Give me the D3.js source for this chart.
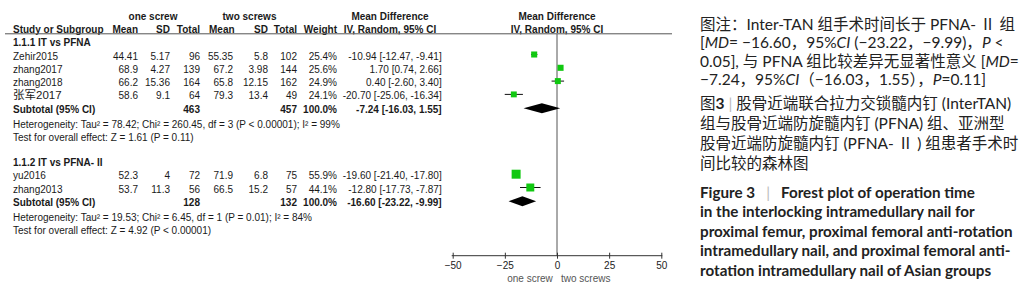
<!DOCTYPE html>
<html>
<head>
<meta charset="utf-8">
<script src="https://cdn.jsdelivr.net/npm/d3@7"></script>
<style>
  body { margin: 0; background: #fff; }
  svg { display: block; }
  .tbl { font-family: "Liberation Sans", Arial, "Noto Sans CJK SC", sans-serif; font-size: 10px; fill: #1a1a1a; }
  .cap { font-family: Lato, "Noto Sans CJK SC", sans-serif; fill: #222; }
</style>
</head>
<body>
<div id="chart"></div>
<script>
// ---- data ----
const studies = ["Zehir2015", "zhang2017", "zhang2018", "张军2017", "yu2016", "zhang2013"];
const studyGroup = [0, 0, 0, 0, 1, 1];
const mean1 = [44.41, 68.9, 66.2, 58.6, 52.3, 53.7];
const sd1 = [5.17, 4.27, 15.36, 9.1, 4, 11.3];
const n1 = [96, 139, 164, 64, 72, 56];
const mean2 = [55.35, 67.2, 65.8, 79.3, 71.9, 66.5];
const sd2 = [5.8, 3.98, 12.15, 13.4, 6.8, 15.2];
const n2 = [102, 144, 162, 49, 75, 57];
const weights = [25.4, 25.6, 24.9, 24.1, 55.9, 44.1];
const md = [-10.94, 1.70, 0.40, -20.70, -19.60, -12.80];
const mdLo = [-12.47, 0.74, -2.60, -25.06, -21.40, -17.73];
const mdHi = [-9.41, 2.66, 3.40, -16.34, -17.80, -7.87];

const groupNames = ["1.1.1 IT vs PFNA", "1.1.2 IT vs PFNA- II"];
const subN1 = [463, 128];
const subN2 = [457, 132];
const subMd = [-7.24, -16.60];
const subLo = [-16.03, -23.22];
const subHi = [1.55, -9.99];
const hetText = [
  "Heterogeneity: Tau² = 78.42; Chi² = 260.45, df = 3 (P < 0.00001); I² = 99%",
  "Heterogeneity: Tau² = 19.53; Chi² = 6.45, df = 1 (P = 0.01); I² = 84%"
];
const testText = [
  "Test for overall effect: Z = 1.61 (P = 0.11)",
  "Test for overall effect: Z = 4.92 (P < 0.00001)"
];
const axisTicks = [-50, -25, 0, 25, 50];

const W = 1032, H = 291;
const svg = d3.select("#chart").append("svg")
  .attr("width", W).attr("height", H);
svg.append("rect").attr("width", W).attr("height", H).attr("fill", "#fff");

// scales
const x = d3.scaleLinear().domain([-50, 50]).range([452.7, 661.3]);
const row = d3.scaleLinear().domain([0, 1]).range([42.7, 56]);
const box = d3.scaleSqrt().domain([0, 100]).range([0, 12]);

// column right edges
const col = { study: 13, m1: 138, s1: 170, t1: 200, m2: 233, s2: 268, t2: 297, w: 337, md: 441.7 };

const t = svg.append("g").attr("class", "tbl");
const fmtMd = (m, l, h) => `${m.toFixed(2)} [${l.toFixed(2)}, ${h.toFixed(2)}]`;

// header
t.append("text").attr("x", 153).attr("y", 19.5).attr("text-anchor", "middle")
  .attr("font-weight", "bold").text("one screw");
t.append("text").attr("x", 249.5).attr("y", 19.5).attr("text-anchor", "middle")
  .attr("font-weight", "bold").text("two screws");
t.append("text").attr("x", 390).attr("y", 19.5).attr("text-anchor", "middle")
  .attr("font-weight", "bold").text("Mean Difference");
t.append("text").attr("x", 557).attr("y", 19.5).attr("text-anchor", "middle")
  .attr("font-weight", "bold").text("Mean Difference");

const head2 = [
  ["Study or Subgroup", col.study, "start"], ["Mean", col.m1, "end"], ["SD", col.s1, "end"],
  ["Total", col.t1, "end"], ["Mean", col.m2 - 24, "start"], ["SD", col.s2, "end"],
  ["Total", col.t2, "end"], ["Weight", col.w, "end"]
];
head2.forEach(([s, xx, a]) => {
  t.append("text").attr("x", xx).attr("y", 32.5).attr("text-anchor", a)
    .attr("font-weight", "bold").text(s);
});
t.append("text").attr("x", 390).attr("y", 32.5).attr("text-anchor", "middle")
  .attr("font-weight", "bold").text("IV, Random, 95% CI");
t.append("text").attr("x", 557).attr("y", 32.5).attr("text-anchor", "middle")
  .attr("font-weight", "bold").text("IV, Random, 95% CI");

svg.append("line").attr("x1", 5).attr("x2", 672).attr("y1", 33.8).attr("y2", 33.8)
  .attr("stroke", "#555").attr("stroke-width", 1);

// zero line
svg.append("line").attr("x1", x(0)).attr("x2", x(0)).attr("y1", 34).attr("y2", 255.7)
  .attr("stroke", "#555").attr("stroke-width", 1);

// rows
const groupStart = [0, 9];
const plot = svg.append("g");
const textY = s => row(s) + 3.5;
const markY = s => row(s) - 1.5;

groupNames.forEach((g, gi) => {
  const base = groupStart[gi];
  t.append("text").attr("x", col.study).attr("y", textY(base))
    .attr("font-weight", "bold").text(g);

  const idx = studies.map((d, i) => i).filter(i => studyGroup[i] === gi);
  idx.forEach((i, k) => {
    const s = base + 1 + k;
    const cells = [
      [studies[i], col.study, "start"], [String(mean1[i]), col.m1, "end"], [String(sd1[i]), col.s1, "end"],
      [String(n1[i]), col.t1, "end"], [String(mean2[i]), col.m2, "end"], [String(sd2[i]), col.s2, "end"],
      [String(n2[i]), col.t2, "end"], [weights[i].toFixed(1) + "%", col.w, "end"],
      [fmtMd(md[i], mdLo[i], mdHi[i]), col.md, "end"]
    ];
    cells.forEach(([v, xx, a], c) => {
      const el = t.append("text").attr("x", xx).attr("y", textY(s)).attr("text-anchor", a).text(v);
      if (c === 0 && /[\u4e00-\u9fff]/.test(v)) el.attr("font-size", 11.5);
    });
    // CI line and box
    plot.append("line").attr("x1", x(mdLo[i])).attr("x2", x(mdHi[i]))
      .attr("y1", markY(s)).attr("y2", markY(s)).attr("stroke", "#111").attr("stroke-width", 1);
    const b = box(weights[i]);
    plot.append("rect").attr("x", x(md[i]) - b / 2).attr("y", markY(s) - b / 2)
      .attr("width", b).attr("height", b).attr("fill", "#10c810");
  });

  const sub = base + 1 + idx.length;
  const subCells = [
    ["Subtotal (95% CI)", col.study, "start"], [String(subN1[gi]), col.t1, "end"],
    [String(subN2[gi]), col.t2, "end"], ["100.0%", col.w, "end"],
    [fmtMd(subMd[gi], subLo[gi], subHi[gi]), col.md, "end"]
  ];
  subCells.forEach(([v, xx, a]) => {
    t.append("text").attr("x", xx).attr("y", textY(sub)).attr("text-anchor", a)
      .attr("font-weight", "bold").text(v);
  });
  const cy = markY(sub) + 0.5, hh = 5;
  plot.append("path")
    .attr("d", `M${x(subLo[gi])},${cy} L${x(subMd[gi])},${cy - hh} L${x(subHi[gi])},${cy} L${x(subMd[gi])},${cy + hh} Z`)
    .attr("fill", "#000");

  t.append("text").attr("x", col.study).attr("y", textY(sub + 1) + 2).text(hetText[gi]);
  t.append("text").attr("x", col.study).attr("y", textY(sub + 2) + 2).text(testText[gi]);
});

// axis
const axisY = 255.7;
const ax = svg.append("g").attr("transform", `translate(0,${axisY})`)
  .call(d3.axisBottom(x).tickValues(axisTicks).tickSize(3).tickPadding(3).tickFormat(d3.format("d")));
ax.select(".domain").attr("stroke", "#333").attr("d", `M${x(-50) - 1},0H${x(50) + 1}`);
ax.selectAll(".tick line").attr("y1", -3).attr("y2", 3).attr("stroke", "#333");
ax.selectAll(".tick text").attr("font-family", "Liberation Sans, Arial, sans-serif")
  .attr("font-size", 10).attr("fill", "#222");

svg.append("text").attr("class", "tbl").attr("x", 530).attr("y", 281.5)
  .attr("text-anchor", "middle").style("fill", "#555").text("one screw");
svg.append("text").attr("class", "tbl").attr("x", 585.7).attr("y", 281.5)
  .attr("text-anchor", "middle").style("fill", "#555").text("two screws");

// ---- caption on the right ----
const cap = svg.append("g").attr("class", "cap");
const capX = 700;
const capLines = [
  { y: 24, size: 15.5, parts: [["图注：Inter-TAN 组手术时间长于 PFNA- Ⅱ 组"]] },
  { y: 42.7, size: 15.5, parts: [["["], ["MD", "i"], ["= −16.60，95%"], ["CI", "i"], [" (−23.22，−9.99)，"], ["P", "i"], [" <"]] },
  { y: 61, size: 15.5, parts: [["0.05], 与 PFNA 组比较差异无显著性意义 ["], ["MD", "i"], ["="]] },
  { y: 79.5, size: 15.5, parts: [["−7.24，95%"], ["CI", "i"], ["（−16.03，1.55），"], ["P", "i"], ["=0.11]"]] },
  { y: 103, size: 15.5, parts: [["图"], ["3", "b"], [" "], ["|", "g"], [" 股骨近端联合拉力交锁髓内钉 (InterTAN)"]] },
  { y: 123, size: 15.5, parts: [["组与股骨近端防旋髓内钉 (PFNA) 组、亚洲型"]] },
  { y: 143, size: 15.5, parts: [["股骨近端防旋髓内钉 (PFNA- Ⅱ ) 组患者手术时"]] },
  { y: 163, size: 15.5, parts: [["间比较的森林图"]] },
  { y: 192.5, size: 15.2, bold: true, parts: [["Figure 3   "], ["|", "g"], ["   Forest plot of operation time"]] },
  { y: 212, size: 15.2, bold: true, parts: [["in the interlocking intramedullary nail for"]] },
  { y: 231.5, size: 15.2, bold: true, parts: [["proximal femur, proximal femoral anti-rotation"]] },
  { y: 251, size: 15.2, bold: true, parts: [["intramedullary nail, and proximal femoral anti-"]] },
  { y: 270.5, size: 15.2, bold: true, parts: [["rotation intramedullary nail of Asian groups"]] }
];
capLines.forEach(l => {
  const tx = cap.append("text").attr("x", capX).attr("y", l.y + l.size * 0.36)
    .attr("font-size", l.size).attr("font-weight", l.bold ? "bold" : "normal")
    .attr("xml:space", "preserve").style("white-space", "pre");
  l.parts.forEach(([s, st]) => {
    const sp = tx.append("tspan").text(s);
    if (st === "i") sp.attr("font-style", "italic");
    if (st === "b") sp.attr("font-weight", "bold");
    if (st === "g") sp.attr("font-weight", "normal").style("fill", "#bbb");
  });
});
</script>
</body>
</html>
